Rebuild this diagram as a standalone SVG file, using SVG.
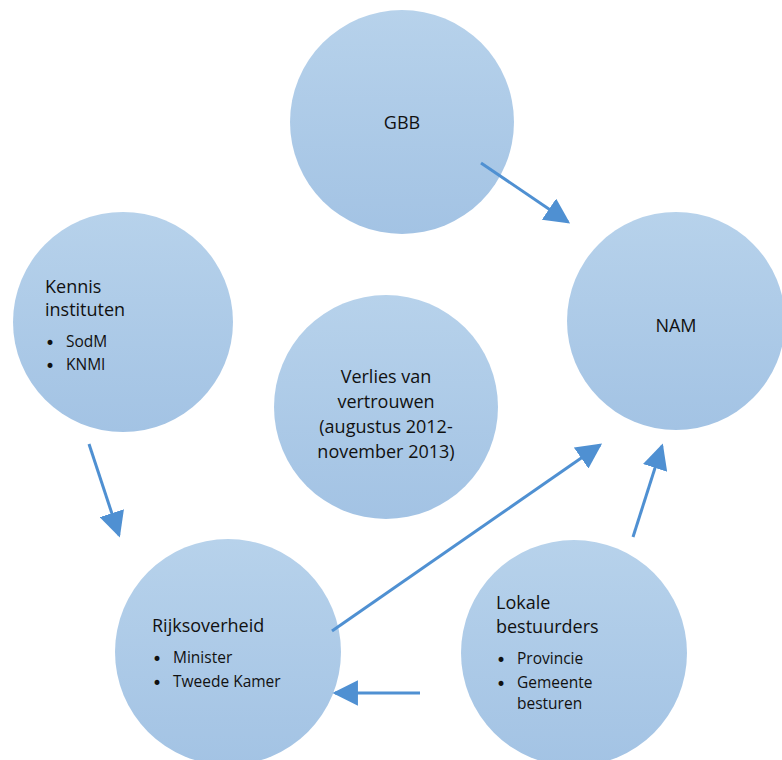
<svg xmlns="http://www.w3.org/2000/svg" width="782" height="760" viewBox="0 0 782 760">
  <defs>
    <linearGradient id="fill" x1="0" y1="0" x2="0" y2="1">
      <stop offset="0" stop-color="#b7d2eb"/>
      <stop offset="1" stop-color="#a3c3e4"/>
    </linearGradient>
    <marker id="head" viewBox="0 0 10 10" refX="9" refY="5" markerWidth="8.5" markerHeight="8.5" orient="auto" markerUnits="strokeWidth">
      <path d="M0,0 L10,5 L0,10 Z" fill="#4f90d2"/>
    </marker>
    <style>
      .node { fill: url(#fill); }
      .t { font-family: "Open Sans", "Liberation Sans", sans-serif; font-size: 18px; fill: #111111; }
      .s { font-family: "Open Sans", "Liberation Sans", sans-serif; font-size: 15.5px; fill: #111111; }
      .b { font-family: "DejaVu Sans", sans-serif; font-size: 17px; fill: #111111; }
      .c { text-anchor: middle; }
      .edge { stroke: #4f90d2; stroke-width: 3; fill: none; marker-end: url(#head); }
    </style>
  </defs>
  <rect width="782" height="760" fill="#ffffff"/>

  <g id="gbb">
    <circle class="node" cx="402" cy="122" r="112"/>
    <text class="t c" x="402" y="129">GBB</text>
  </g>

  <g id="nam">
    <circle class="node" cx="676" cy="321" r="109"/>
    <text class="t c" x="676" y="332">NAM</text>
  </g>

  <g id="kennis">
    <circle class="node" cx="123" cy="322" r="110"/>
    <text class="t" x="45" y="293">Kennis</text>
    <text class="t" x="45" y="316">instituten</text>
    <text class="b" x="45" y="349">•</text>
    <text class="s" x="66" y="347">SodM</text>
    <text class="b" x="45" y="372">•</text>
    <text class="s" x="66" y="370">KNMI</text>
  </g>

  <g id="verlies">
    <circle class="node" cx="386" cy="407" r="112"/>
    <text class="t c" x="386" y="383">Verlies van</text>
    <text class="t c" x="386" y="408">vertrouwen</text>
    <text class="t c" x="386" y="433">(augustus 2012-</text>
    <text class="t c" x="386" y="458">november 2013)</text>
  </g>

  <g id="rijks">
    <circle class="node" cx="228" cy="652" r="113"/>
    <text class="t" x="152" y="632">Rijksoverheid</text>
    <text class="b" x="152" y="665">•</text>
    <text class="s" x="173" y="663">Minister</text>
    <text class="b" x="152" y="689">•</text>
    <text class="s" x="173" y="687">Tweede Kamer</text>
  </g>

  <g id="lokale">
    <circle class="node" cx="574" cy="653" r="113"/>
    <text class="t" x="496" y="609">Lokale</text>
    <text class="t" x="496" y="633">bestuurders</text>
    <text class="b" x="496" y="666">•</text>
    <text class="s" x="517" y="664">Provincie</text>
    <text class="b" x="496" y="690">•</text>
    <text class="s" x="517" y="688">Gemeente</text>
    <text class="s" x="517" y="709">besturen</text>
  </g>

  <g id="connectors">
    <line class="edge" x1="481" y1="163" x2="568" y2="222"/>
    <line class="edge" x1="89" y1="444" x2="119" y2="535"/>
    <line class="edge" x1="332" y1="631" x2="600" y2="445"/>
    <line class="edge" x1="633" y1="537" x2="662" y2="446"/>
    <line class="edge" x1="420" y1="693" x2="335" y2="693"/>
  </g>
</svg>
